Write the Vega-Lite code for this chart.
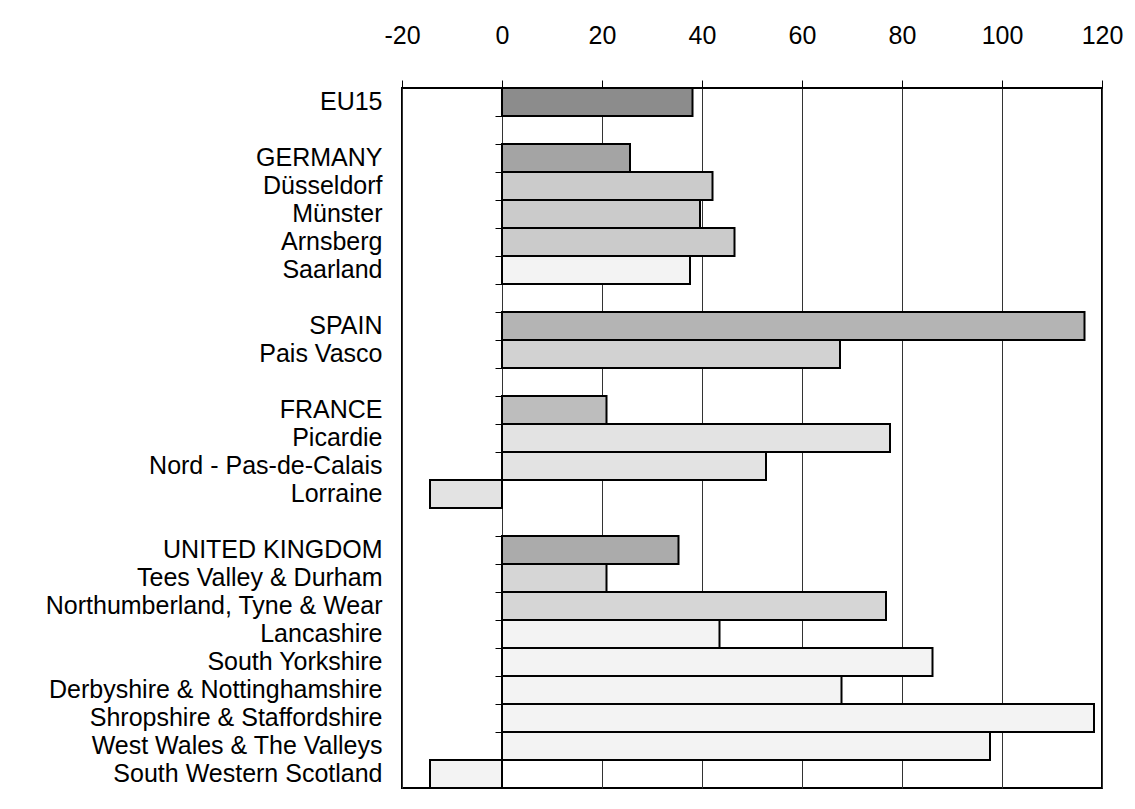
{
  "$schema": "https://vega.github.io/schema/vega-lite/v6.json",
  "autosize": {"type": "none"},
  "padding": {"left": 402, "top": 88, "right": 33, "bottom": 21},
  "width": 700,
  "height": 700,
  "background": "white",
  "config": {
    "font": "Liberation Sans",
    "view": {"stroke": "black", "strokeWidth": 2}
  },
  "data": {
    "values": [
      {"region": "EU15", "value": 38.1, "kind": "eu"},
      {"region": "GERMANY", "value": 25.6, "kind": "de_nat"},
      {"region": "Düsseldorf", "value": 42.1, "kind": "de_reg"},
      {"region": "Münster", "value": 39.6, "kind": "de_reg"},
      {"region": "Arnsberg", "value": 46.5, "kind": "de_reg"},
      {"region": "Saarland", "value": 37.6, "kind": "dot"},
      {"region": "SPAIN", "value": 116.5, "kind": "es_nat"},
      {"region": "Pais Vasco", "value": 67.6, "kind": "es_reg"},
      {"region": "FRANCE", "value": 20.9, "kind": "fr_nat"},
      {"region": "Picardie", "value": 77.6, "kind": "fr_reg"},
      {"region": "Nord - Pas-de-Calais", "value": 52.8, "kind": "fr_reg"},
      {"region": "Lorraine", "value": -14.4, "kind": "fr_reg"},
      {"region": "UNITED KINGDOM", "value": 35.3, "kind": "uk_nat"},
      {"region": "Tees Valley & Durham", "value": 20.9, "kind": "uk_wave"},
      {"region": "Northumberland, Tyne & Wear", "value": 76.8, "kind": "uk_wave"},
      {"region": "Lancashire", "value": 43.5, "kind": "dot"},
      {"region": "South Yorkshire", "value": 86.1, "kind": "dot"},
      {"region": "Derbyshire & Nottinghamshire", "value": 67.9, "kind": "dot"},
      {"region": "Shropshire & Staffordshire", "value": 118.4, "kind": "dot"},
      {"region": "West Wales & The Valleys", "value": 97.6, "kind": "dot"},
      {"region": "South Western Scotland", "value": -14.4, "kind": "dot"}
    ]
  },
  "encoding": {
    "y": {
      "field": "region",
      "type": "nominal",
      "sort": null,
      "scale": {
        "domain": ["EU15", " ", "GERMANY", "Düsseldorf", "Münster", "Arnsberg", "Saarland", "  ", "SPAIN", "Pais Vasco", "   ", "FRANCE", "Picardie", "Nord - Pas-de-Calais", "Lorraine", "    ", "UNITED KINGDOM", "Tees Valley & Durham", "Northumberland, Tyne & Wear", "Lancashire", "South Yorkshire", "Derbyshire & Nottinghamshire", "Shropshire & Staffordshire", "West Wales & The Valleys", "South Western Scotland"],
        "paddingInner": 0,
        "paddingOuter": 0
      }
    },
    "x": {
      "field": "value",
      "type": "quantitative",
      "scale": {"domain": [-20, 120], "nice": false, "zero": false}
    }
  },
  "layer": [
    {
      "mark": {"type": "bar", "stroke": "black", "strokeWidth": 2, "strokeJoin": "miter"},
      "encoding": {
        "x": {
          "field": "value",
          "type": "quantitative",
          "axis": {
            "orient": "top",
            "title": null,
            "values": [-20, 0, 20, 40, 60, 80, 100, 120],
            "labelExpr": "datum.value < 0 ? '-' + abs(datum.value) : '' + datum.value",
            "domain": false,
            "tickSize": 8,
            "tickColor": "black",
            "tickWidth": 1,
            "labelPadding": 32,
            "labelFontSize": 25,
            "labelColor": "black",
            "labelFlush": false,
            "grid": true,
            "gridColor": "#333333",
            "gridWidth": 1,
            "gridOpacity": 1
          }
        },
        "y": {
          "field": "region",
          "type": "nominal",
          "sort": null,
          "axis": {
            "orient": "left",
            "title": null,
            "ticks": false,
            "tickSize": 0,
            "domain": false,
            "grid": false,
            "labelPadding": 20,
            "labelFontSize": 25,
            "labelColor": "black",
            "labelLimit": 400
          }
        },
        "color": {
          "field": "kind",
          "type": "nominal",
          "legend": null,
          "scale": {
            "domain": ["eu", "de_nat", "de_reg", "dot", "es_nat", "es_reg", "fr_nat", "fr_reg", "uk_nat", "uk_wave"],
            "range": ["#8c8c8c", "#a4a4a4", "#cbcbcb", "#f3f3f3", "#b4b4b4", "#d2d2d2", "#bdbdbd", "#e3e3e3", "#ababab", "#d6d6d6"]
          }
        }
      }
    },
    {
      "mark": {"type": "bar", "opacity": 0},
      "encoding": {
        "y": {
          "field": "region",
          "type": "nominal",
          "sort": null,
          "axis": {
            "orient": "left",
            "offset": -100,
            "title": null,
            "labels": false,
            "domain": false,
            "grid": false,
            "ticks": true,
            "tickSize": 7,
            "tickColor": "black",
            "tickWidth": 1,
            "tickBand": "extent"
          }
        }
      }
    }
  ],
  "resolve": {"axis": {"y": "independent"}}
}
